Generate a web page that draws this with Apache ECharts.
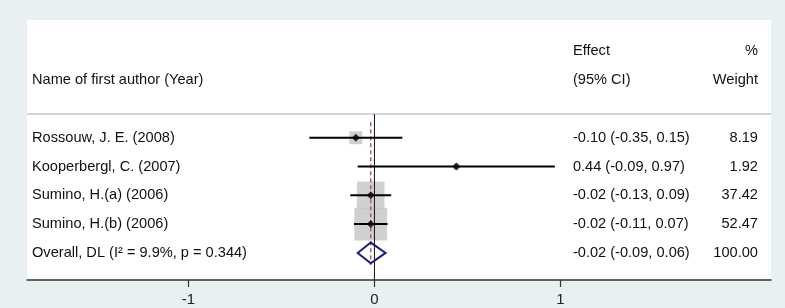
<!DOCTYPE html>
<html><head><meta charset="utf-8">
<script src="https://cdn.jsdelivr.net/npm/echarts@6/dist/echarts.min.js"></script>
<style>html,body{margin:0;padding:0;background:#e8f0f2;}#c{width:785px;height:308px;}</style>
</head><body><div id="c"></div>
<script>
// ---- data ----
const studies = ['Rossouw, J. E. (2008)', 'Kooperbergl, C. (2007)', 'Sumino, H.(a) (2006)', 'Sumino, H.(b) (2006)'];
const effects = [-0.10, 0.44, -0.02, -0.02];
const lowerCI = [-0.35, -0.09, -0.13, -0.11];
const upperCI = [0.15, 0.97, 0.09, 0.07];
const weights = [8.19, 1.92, 37.42, 52.47];
const overallLabel = 'Overall, DL (I\u00B2 = 9.9%, p = 0.344)';
const overallEffect = -0.02, overallLower = -0.09, overallUpper = 0.06, overallWeight = 100.00;
const headerName = 'Name of first author (Year)';
const headerEffect = ['Effect', '(95% CI)'];
const headerWeight = ['%', 'Weight'];
const xTicks = [-1, 0, 1];

// ---- layout ----
const FONT = '14.6px "Liberation Sans", Arial, sans-serif';
const COL_NAME = -1.841, COL_EFFECT = 1.067, COL_WEIGHT = 2.062;
const XMIN = -1.868, XMAX = 2.132, YMIN = -3.087, YMAX = 5.94;
const rows = studies.map((s, i) => i + 1);
const overallRow = studies.length + 1;
const fmt = v => v.toFixed(2);

const textItems = [];
textItems.push([COL_NAME, -1, headerName, 'left']);
textItems.push([COL_EFFECT, -2, headerEffect[0], 'left']);
textItems.push([COL_EFFECT, -1, headerEffect[1], 'left']);
textItems.push([COL_WEIGHT, -2, headerWeight[0], 'right']);
textItems.push([COL_WEIGHT, -1, headerWeight[1], 'right']);
studies.forEach((s, i) => {
  textItems.push([COL_NAME, rows[i], s, 'left']);
  textItems.push([COL_EFFECT, rows[i], `${fmt(effects[i])} (${fmt(lowerCI[i])}, ${fmt(upperCI[i])})`, 'left']);
  textItems.push([COL_WEIGHT, rows[i], fmt(weights[i]), 'right']);
});
textItems.push([COL_NAME, overallRow, overallLabel, 'left']);
textItems.push([COL_EFFECT, overallRow, `${fmt(overallEffect)} (${fmt(overallLower)}, ${fmt(overallUpper)})`, 'left']);
textItems.push([COL_WEIGHT, overallRow, fmt(overallWeight), 'right']);

const chart = echarts.init(document.getElementById('c'), null, {renderer: 'canvas'});
chart.setOption({
  backgroundColor: '#e8f0f2',
  animation: false,
  grid: {left: 27, right: 14, top: 20, bottom: 28, show: true, backgroundColor: '#ffffff', borderWidth: 0},
  xAxis: {
    type: 'value', min: XMIN, max: XMAX,
    splitLine: {show: false},
    axisLine: {show: true, onZero: false, lineStyle: {color: '#333', width: 1.5}},
    axisTick: {show: true, customValues: xTicks, length: 7, lineStyle: {color: '#333', width: 1.2}},
    axisLabel: {customValues: xTicks, fontSize: 15, fontFamily: '"Liberation Sans", Arial, sans-serif', color: '#222', margin: 12}
  },
  yAxis: {type: 'value', inverse: true, min: YMIN, max: YMAX, show: false},
  series: [
    { // header separator
      type: 'custom', silent: true,
      data: [[XMIN, 0.18]],
      renderItem: (p, api) => {
        const a = api.coord([XMIN, api.value(1)]), b = api.coord([XMAX, api.value(1)]);
        return {type: 'line', shape: {x1: a[0], y1: a[1], x2: b[0], y2: b[1]}, style: {stroke: '#d6d6d6', lineWidth: 2}};
      }
    },
    { // weight boxes
      type: 'scatter', silent: true, symbol: 'rect',
      data: studies.map((s, i) => [effects[i], rows[i], weights[i]]),
      symbolSize: v => 4.51 * Math.sqrt(v[2]),
      itemStyle: {color: '#c4c4c4'}, z: 2
    },
    { // null line at 0
      type: 'custom', silent: true, z: 3,
      data: [[0, 0.18, YMAX]],
      renderItem: (p, api) => {
        const a = api.coord([api.value(0), api.value(1)]), b = api.coord([api.value(0), api.value(2)]);
        return {type: 'line', shape: {x1: a[0], y1: a[1], x2: b[0], y2: b[1]}, style: {stroke: '#111', lineWidth: 1}};
      }
    },
    { // overall dashed line
      type: 'custom', silent: true, z: 4,
      data: [[overallEffect, 0.46, 5.42]],
      renderItem: (p, api) => {
        const a = api.coord([api.value(0), api.value(1)]), b = api.coord([api.value(0), api.value(2)]);
        return {type: 'line', shape: {x1: a[0], y1: a[1], x2: b[0], y2: b[1]}, style: {stroke: '#b05a66', lineWidth: 1.5, lineDash: [4, 3]}};
      }
    },
    { // CI lines
      type: 'custom', silent: true, z: 5,
      data: studies.map((s, i) => [lowerCI[i], upperCI[i], rows[i]]),
      renderItem: (p, api) => {
        const a = api.coord([api.value(0), api.value(2)]), b = api.coord([api.value(1), api.value(2)]);
        return {type: 'line', shape: {x1: a[0], y1: a[1], x2: b[0], y2: b[1]}, style: {stroke: '#000', lineWidth: 2}};
      }
    },
    { // point estimates
      type: 'scatter', silent: true, symbol: 'diamond', symbolSize: 8, z: 6,
      data: studies.map((s, i) => [effects[i], rows[i]]),
      itemStyle: {color: '#000'}
    },
    { // overall diamond
      type: 'custom', silent: true, z: 7,
      data: [[overallLower, overallEffect, overallUpper, overallRow]],
      renderItem: (p, api) => {
        const r = api.value(3);
        const pts = [
          api.coord([api.value(0), r]),
          api.coord([api.value(1), r - 0.36]),
          api.coord([api.value(2), r]),
          api.coord([api.value(1), r + 0.36])
        ];
        return {type: 'polygon', shape: {points: pts}, style: {fill: 'rgba(255,255,255,0)', stroke: '#1c1c80', lineWidth: 2}};
      }
    },
    { // texts
      type: 'custom', silent: true, z: 8,
      data: textItems.map(t => [t[0], t[1]]),
      renderItem: (p, api) => {
        const t = textItems[p.dataIndex];
        const c = api.coord([api.value(0), api.value(1)]);
        return {type: 'text', x: c[0], y: c[1], style: {text: t[2], font: FONT, fill: '#111', align: t[3], verticalAlign: 'middle'}};
      }
    }
  ]
});
</script></body></html>
